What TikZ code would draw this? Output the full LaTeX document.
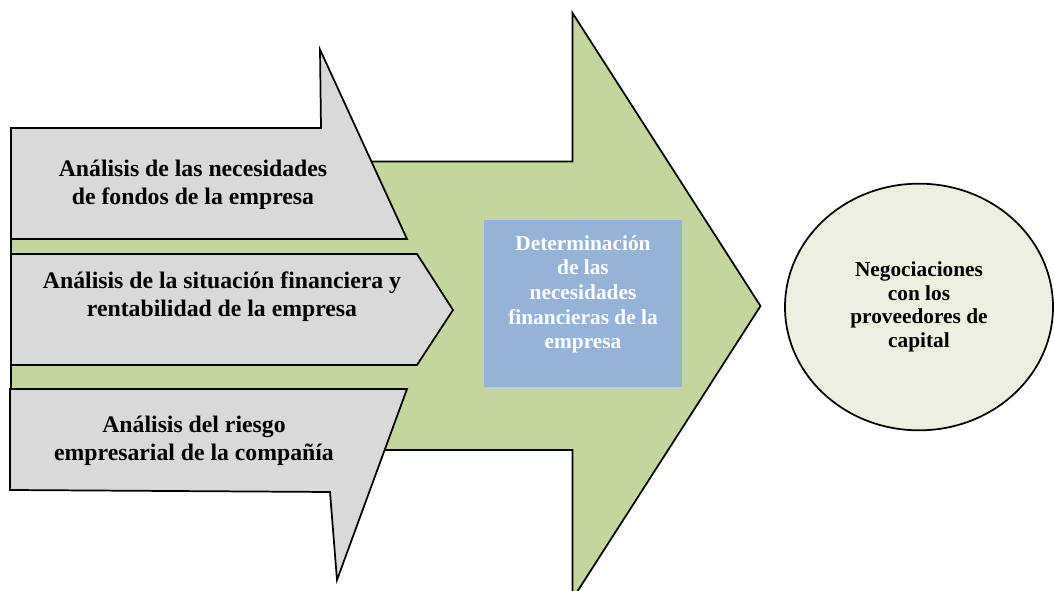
\documentclass[tikz,border=0pt]{standalone}
\usepackage{fontspec}
\setmainfont{Liberation Serif}
\usetikzlibrary{shapes.geometric}
\definecolor{arrowgreen}{HTML}{C3D69B}
\definecolor{arrowgrey}{HTML}{D9D9D9}
\definecolor{boxblue}{HTML}{95B3D7}
\definecolor{ovalgreen}{HTML}{EBF1DE}

\begin{document}
\begin{tikzpicture}[x=0.75pt,y=-0.75pt,
    outline/.style={draw=black,line width=1.3pt,line join=miter},
    greylabel/.style={align=center,font=\fontsize{17.8}{20.8}\selectfont\bfseries},
    bluelabel/.style={align=center,text=white,font=\fontsize{16}{18.5}\selectfont\bfseries},
    ovallabel/.style={align=center,font=\fontsize{16}{17.8}\selectfont\bfseries}]
    \useasboundingbox (0,0) rectangle (1054,591);
    \clip (0,0) rectangle (1054,591);
    \filldraw[outline,fill=arrowgreen] (11,161.5) -- (572.5,161.5) -- (572.5,13) -- (760.5,306)
        -- (572.5,599) -- (572.5,450) -- (11,450) -- cycle;
    \filldraw[outline,fill=arrowgrey] (11,128) -- (321,128) -- (320,49.5) -- (407,239)
        -- (11,239) -- cycle;
    \filldraw[outline,fill=arrowgrey] (11,254) -- (417,254) -- (453,310) -- (417,365)
        -- (11,365) -- cycle;
    \filldraw[outline,fill=arrowgrey] (10,389) -- (407,389) -- (337,580) -- (330,492)
        -- (10,490) -- cycle;
    \node[greylabel] (fondos) at (193,185) {Análisis de las necesidades\\de fondos de la empresa};
    \node[greylabel] (situacion) at (222,297) {Análisis de la situación financiera y\\rentabilidad de la empresa};
    \node[greylabel] (riesgo) at (194,441) {Análisis del riesgo\\empresarial de la compañía};
    \node[fill=boxblue,minimum width=148.5pt,minimum height=125pt,inner sep=0pt] (det) at (583,303.5) {};
    \node[bluelabel] (dettext) at (583,294.5) {Determinación\\de las\\necesidades\\financieras de la\\empresa};
    \node[ellipse,outline,fill=ovalgreen,minimum width=201pt,minimum height=185pt,inner sep=0pt,ovallabel]
        (neg) at (919,307) {Negociaciones\\con los\\proveedores de\\capital};
\end{tikzpicture}
\end{document}
